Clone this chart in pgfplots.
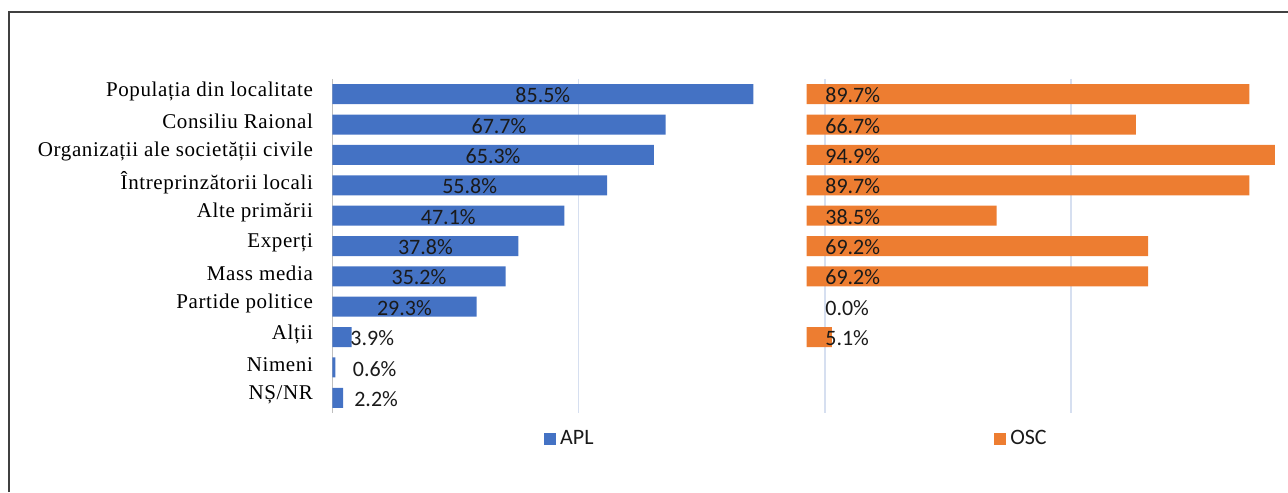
\documentclass[border=0pt]{standalone}
\usepackage{pgfplots}
\pgfplotsset{compat=1.18}
\usepackage{pgfplotstable}
\usepackage{fontspec}
\setmainfont{Liberation Serif}
\newfontfamily\catfont[LetterSpace=3]{Liberation Serif}
\newfontfamily\lblfont{Carlito}
\definecolor{aplblue}{HTML}{4472C4}
\definecolor{oscorange}{HTML}{ED7D31}
\definecolor{gridc}{HTML}{D6DFF0}
\definecolor{axisc}{HTML}{BFBFBF}
\definecolor{framec}{HTML}{404040}
\definecolor{txtc}{HTML}{1A1A1A}

\pgfplotstableread{
y v lx
0 85.5 42.75
1 67.7 33.85
2 65.3 32.65
3 55.8 27.9
4 47.1 23.55
5 37.8 18.9
6 35.2 17.6
7 29.3 14.65
8 3.9 8.1
9 0.6 8.6
10 2.2 8.9
}\apltable

\pgfplotstableread{
y v lx
0 89.7 3.7
1 66.7 3.7
2 94.9 3.7
3 89.7 3.7
4 38.5 3.7
5 69.2 3.7
6 69.2 3.7
7 0.0 3.7
8 5.1 3.7
}\osctable

\begin{document}
\begin{tikzpicture}[x=1pt,y=1pt]
\useasboundingbox (0,0) rectangle (644,246);
\draw[framec, line width=0.8pt] (4.5,0) -- (4.5,240) -- (644,240);
\pgfplotsset{
  common/.style={
    scale only axis, clip=false,
    height=167pt,
    ymin=-0.5, ymax=10.5, y dir=reverse,
    bar width=10pt, bar shift=0pt,
    axis line style={draw=none},
    major tick length=0pt,
    xticklabels={},
    legend style={draw=none, fill=none, inner sep=0pt,
      font=\lblfont\fontsize{11}{12}\selectfont, text=txtc},
    legend image code/.code={\fill[##1] (0pt,-3pt) rectangle (6pt,3pt);},
  },
  lbl/.style={draw=none, mark=none, forget plot, point meta=explicit,
    nodes near coords={\pgfmathprintnumber[fixed,fixed zerofill,precision=1,assume math mode=true]{\pgfplotspointmeta}\%},
    every node near coord/.append style={font=\lblfont\fontsize{11}{12}\selectfont, text=txtc, inner sep=0pt, yshift=-0.6pt}},
}
\begin{axis}[common,
  at={(166.15pt,39.5pt)}, anchor=south west,
  width=369.35pt,
  xmin=0, xmax=150,
  xtick={50,100,150},
  xmajorgrids, grid style={gridc, line width=0.8pt},
  extra x ticks={0}, extra x tick labels={},
  extra x tick style={grid style={axisc, line width=0.8pt}},
  ytick={0,...,10},
  yticklabels={Populația din localitate, Consiliu Raional, Organizații ale societății civile\hspace{4pt}, Întreprinzătorii locali, Alte primării, Experți, Mass media, Partide politice, Alții, Nimeni, NȘ/NR},
  yticklabel style={font=\catfont\fontsize{10.5}{12}\selectfont, text=black, anchor=east, inner sep=0pt, xshift=-9.5pt, yshift=1.5pt},
  legend style={at={(0.323,0)}, anchor=center, yshift=-13pt},
]
\addplot[xbar, fill=aplblue, draw=none] table[x=v, y=y] {\apltable};
\addlegendentry{APL}
\addplot[lbl, every node near coord/.append style={anchor=center}] table[x=lx, y=y, meta=v] {\apltable};
\end{axis}
\begin{axis}[common,
  at={(403.35pt,39.5pt)}, anchor=south west,
  width=236.85pt,
  xmin=0, xmax=96,
  xtick=\empty, ytick=\empty,
  legend style={at={(0.4556,0)}, anchor=center, yshift=-13pt},
]
\addplot[xbar, fill=oscorange, draw=none, x filter/.expression={x<=0 ? nan : x}] table[x=v, y=y] {\osctable};
\addlegendentry{OSC}
\addplot[lbl, every node near coord/.append style={anchor=west}] table[x=lx, y=y, meta=v] {\osctable};
\end{axis}
\end{tikzpicture}
\end{document}
